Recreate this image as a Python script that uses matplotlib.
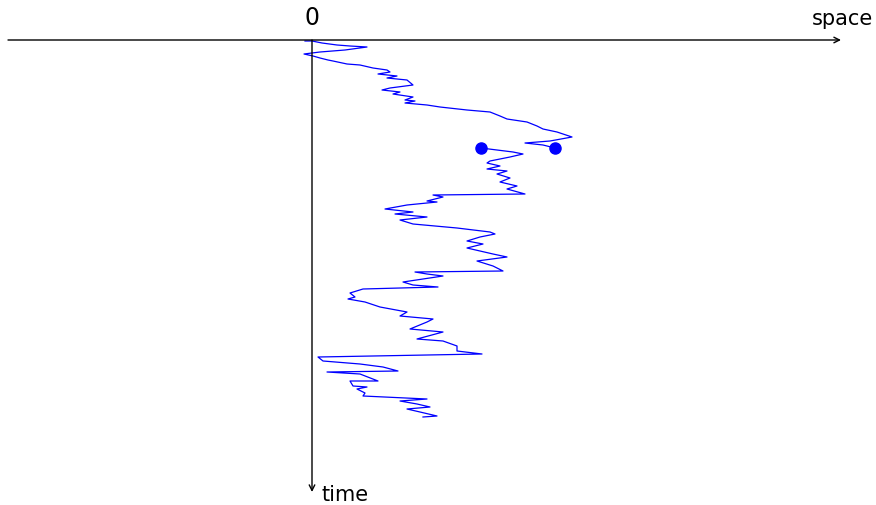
import matplotlib.pyplot as plt

# Pfad der Lévy-Trajektorie (Raum, Zeit)
# Teil vor dem markierten Sprung
space_a = [-0.07, 0.00, 0.10, 0.25, 0.38, 0.55, 0.33, 0.08, -0.08, 0.01, 0.08, 0.16, 0.21,
           0.35, 0.48, 0.61, 0.75, 0.78, 0.66, 0.85, 0.75, 0.95, 1.01, 0.78, 0.70, 0.88,
           0.81, 1.01, 0.93, 1.03, 0.93, 1.15, 1.28, 1.55, 1.78, 1.88, 1.95, 2.15, 2.25,
           2.31, 2.45, 2.60, 2.38, 2.13, 2.31, 2.43]
time_a = [0.01, 0.01, 0.03, 0.05, 0.06, 0.07, 0.10, 0.12, 0.14, 0.16, 0.18, 0.20, 0.21,
          0.24, 0.25, 0.28, 0.30, 0.32, 0.34, 0.36, 0.38, 0.40, 0.45, 0.48, 0.50, 0.52,
          0.54, 0.57, 0.60, 0.61, 0.63, 0.65, 0.67, 0.70, 0.72, 0.76, 0.79, 0.82, 0.86,
          0.89, 0.92, 0.97, 1.01, 1.03, 1.05, 1.08]
# Teil nach dem Sprung
space_b = [1.69, 2.01, 2.11, 1.98, 1.78, 1.75, 1.88, 1.75, 1.95, 1.85, 1.98, 1.88, 2.05,
           1.95, 2.13,
           1.21, 1.31, 1.15, 1.25, 0.95, 0.73, 1.01, 0.83, 1.15, 0.88, 1.01, 1.45, 1.78,
           1.83, 1.68, 1.55, 1.71, 1.55, 1.81, 1.95, 1.65, 1.81, 1.91,
           1.03, 1.15, 1.31, 0.91, 1.01, 1.26,
           0.51, 0.38, 0.43, 0.36, 0.53, 0.68, 0.95, 0.88, 1.21, 1.15, 0.98, 1.31, 1.05,
           1.31, 1.45, 1.45, 1.70,
           0.06, 0.11, 0.48, 0.71, 0.86, 0.15, 0.48, 0.66, 0.38, 0.41, 0.55, 0.45, 0.53,
           0.51, 1.15, 0.88, 1.05, 1.18, 0.95, 1.08, 1.25, 1.11]
time_b = [1.08, 1.12, 1.14, 1.17, 1.21, 1.23, 1.26, 1.29, 1.31, 1.34, 1.38, 1.42, 1.46,
          1.49, 1.54,
          1.55, 1.57, 1.61, 1.62, 1.65, 1.69, 1.72, 1.74, 1.77, 1.80, 1.84, 1.88, 1.92,
          1.94, 1.97, 2.01, 2.04, 2.08, 2.14, 2.17, 2.21, 2.26, 2.31,
          2.32, 2.34, 2.36, 2.42, 2.45, 2.47,
          2.49, 2.53, 2.57, 2.59, 2.62, 2.67, 2.72, 2.76, 2.79, 2.82, 2.89, 2.92, 2.99,
          3.01, 3.06, 3.11, 3.14,
          3.17, 3.21, 3.24, 3.27, 3.31, 3.32, 3.34, 3.41, 3.41, 3.46, 3.47, 3.49, 3.53,
          3.56, 3.59, 3.61, 3.64, 3.67, 3.69, 3.72, 3.76, 3.77]

# Endpunkte des markierten Sprungs
jump_space = [1.69, 2.43]
jump_time = [1.08, 1.08]

fig = plt.figure(figsize=(8.76, 5.06), dpi=100)
ax = fig.add_axes([0, 0, 1, 1])
ax.set_xlim(-3.12, 5.64)
ax.set_ylim(4.65, -0.41)
ax.axis('off')

# Achsen mit Pfeilen
ax.annotate('', xy=(5.29, 0), xytext=(-3.04, 0),
            arrowprops=dict(arrowstyle='->', lw=1, color='black', shrinkA=0, shrinkB=0))
ax.annotate('', xy=(0, 4.52), xytext=(0, 0),
            arrowprops=dict(arrowstyle='->', lw=1, color='black', shrinkA=0, shrinkB=0))

ax.plot(space_a, time_a, color='blue', linewidth=0.9)
ax.plot(space_b, time_b, color='blue', linewidth=0.9)
ax.plot(jump_space, jump_time, 'o', color='blue', markersize=8)

ax.text(0, -0.11, '0', ha='center', va='bottom', fontsize=17)
ax.text(5.61, -0.12, 'space', ha='right', va='bottom', fontsize=15)
ax.text(0.09, 4.54, 'time', ha='left', va='center', fontsize=15)

fig.savefig('out.png', dpi=100)
